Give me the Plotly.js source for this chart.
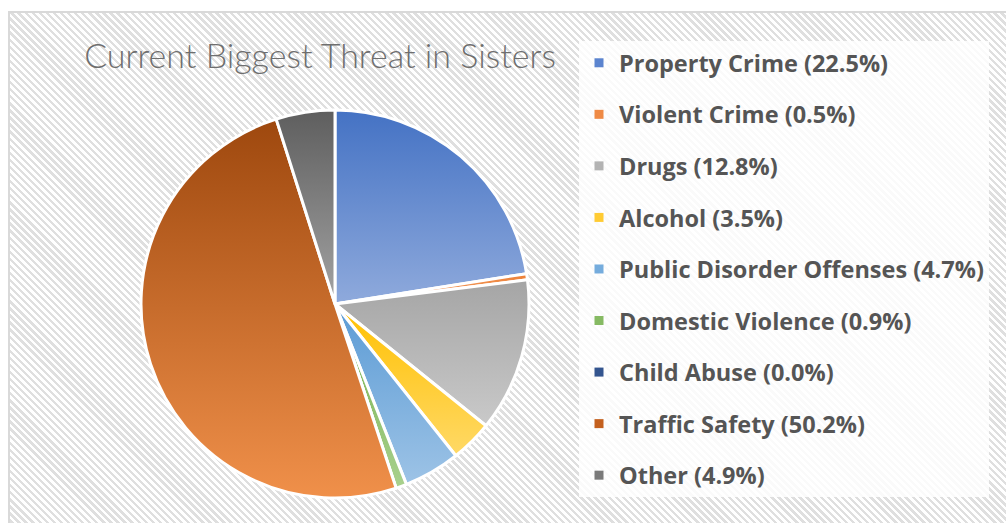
<!DOCTYPE html>
<html>
<head>
<meta charset="utf-8">
<script src="https://cdn.plot.ly/plotly-3.0.1.min.js"></script>
<style>
  html, body { margin: 0; padding: 0; background: #ffffff; }
  #frame {
    position: absolute; left: 8px; top: 11px; width: 1010px; height: 520px;
    border-left: 2px solid #d9d9d9; border-top: 2px solid #d9d9d9;
    background: repeating-linear-gradient(45deg, #ffffff 0px, #ffffff 2.6px, #dfdfdf 2.6px, #dfdfdf 5px);
  }
  #chart { position: absolute; left: 0; top: 0; width: 1006px; height: 523px; }
</style>
</head>
<body>
<div id="frame"></div>
<svg width="0" height="0" style="position:absolute">
  <defs id="gradDefs"></defs>
</svg>
<div id="chart"></div>
<script>
// ---- data ----
const categories = ["Property Crime", "Violent Crime", "Drugs", "Alcohol", "Public Disorder Offenses",
                    "Domestic Violence", "Child Abuse", "Traffic Safety", "Other"];
const values = [22.5, 0.5, 12.8, 3.5, 4.7, 0.9, 0.0, 50.2, 4.9];
const titleText = "Current Biggest Threat in Sisters";

// ---- styles ----
const topColors    = ["#4472C4", "#ED7D31", "#A5A5A5", "#FFC000", "#5B9BD5", "#70AD47", "#264478", "#9E480E", "#5E5E5E"];
const bottomColors = ["#8FAADC", "#F4B183", "#C9C9C9", "#FFD966", "#9DC3E6", "#A9D18E", "#5677B8", "#F0904A", "#A3A3A3"];
const legendColors = ["#5B84CF", "#EF8A45", "#B3B3B3", "#FFCB33", "#75ACDD", "#86BA63", "#34558F", "#C4601E", "#7A7A7A"];

const labels = categories.map((c, i) => c + " (" + values[i].toFixed(1) + "%)");

const pieTrace = {
  type: "pie",
  labels: categories,
  values: values,
  sort: false,
  direction: "clockwise",
  rotation: 0,
  textinfo: "none",
  hoverinfo: "none",
  showlegend: false,
  marker: { colors: topColors, line: { color: "#ffffff", width: 3 } },
  domain: { x: [(335 - 194) / 1006, (335 + 194) / 1006], y: [(219 - 194) / 523, (219 + 194) / 523] }
};

const legendTraces = labels.map((lab, i) => ({
  type: "scatter", mode: "markers", x: [null], y: [null],
  name: lab, legendgroup: "g" + i, showlegend: true, hoverinfo: "none",
  marker: { symbol: "square", size: 9, color: legendColors[i] }
}));

const layout = {
  width: 1006, height: 523,
  margin: { l: 0, r: 0, t: 0, b: 0 },
  paper_bgcolor: "rgba(0,0,0,0)",
  plot_bgcolor: "rgba(0,0,0,0)",
  xaxis: { visible: false }, yaxis: { visible: false },
  title: {
    text: titleText, x: 320 / 1006, xanchor: "center", y: 1 - 56 / 523, yanchor: "middle",
    font: { family: "Lato, 'Open Sans', sans-serif", size: 34, color: "#6e6e6e", weight: 300 }
  },
  legend: {
    x: 579 / 1006, xanchor: "left", y: 1 - 41 / 523, yanchor: "top",
    bgcolor: "rgba(255,255,255,0.85)", borderwidth: 0,
    font: { family: "'Open Sans', sans-serif", size: 23.5, color: "#555555", weight: "bold" },
    traceorder: "grouped", tracegroupgap: 18, itemclick: false, itemdoubleclick: false
  },
  showlegend: true
};

function applyGradients() {
  const defs = document.getElementById("gradDefs");
  defs.innerHTML = "";
  const NS = "http://www.w3.org/2000/svg";
  topColors.forEach((c, i) => {
    const g = document.createElementNS(NS, "linearGradient");
    g.setAttribute("id", "sliceGrad" + i);
    g.setAttribute("x1", "0"); g.setAttribute("y1", "0");
    g.setAttribute("x2", "0"); g.setAttribute("y2", "1");
    const s1 = document.createElementNS(NS, "stop");
    s1.setAttribute("offset", "0"); s1.setAttribute("stop-color", c);
    const s2 = document.createElementNS(NS, "stop");
    s2.setAttribute("offset", "1"); s2.setAttribute("stop-color", bottomColors[i]);
    g.appendChild(s1); g.appendChild(s2);
    defs.appendChild(g);
  });
  const slices = document.querySelectorAll("#chart .pielayer .slice path.surface");
  slices.forEach((p, i) => { p.style.fill = "url(#sliceGrad" + i + ")"; });
}

Plotly.newPlot("chart", [pieTrace].concat(legendTraces), layout, { staticPlot: true, displayModeBar: false })
  .then(applyGradients);
</script>
</body>
</html>
